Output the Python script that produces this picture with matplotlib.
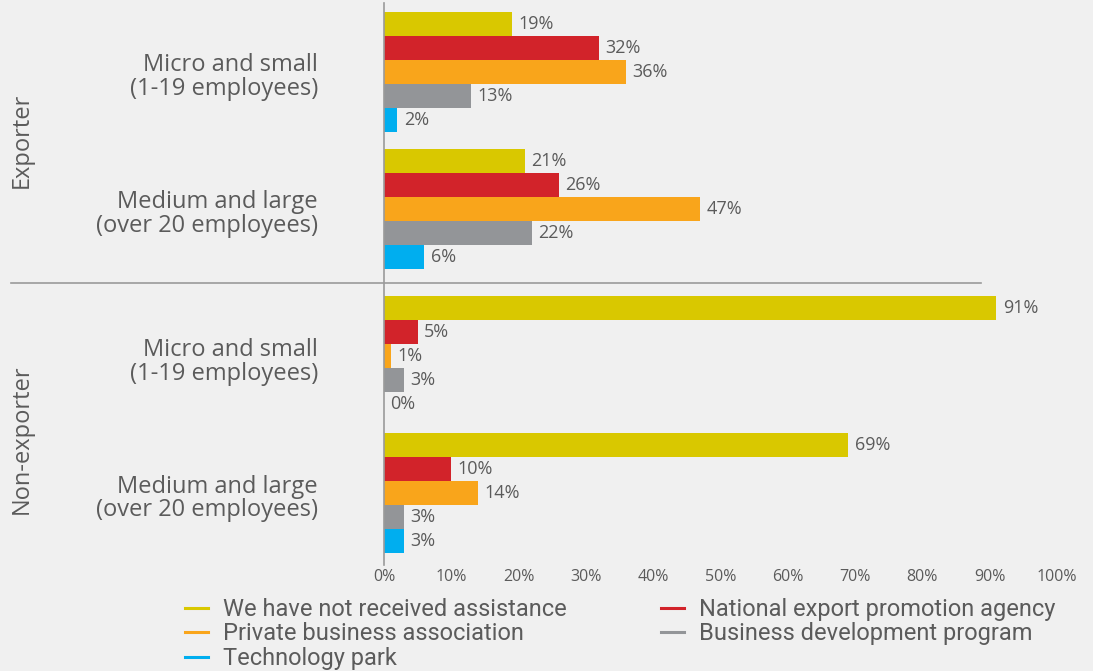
import matplotlib
matplotlib.use("Agg")
import matplotlib.pyplot as plt
import matplotlib.transforms as mtransforms
from matplotlib.lines import Line2D
import numpy as np

# Survey data: share of firms by source of assistance (%)
series_names = [
    "We have not received assistance",
    "National export promotion agency",
    "Private business association",
    "Business development program",
    "Technology park",
]
series_colors = ["#D9C800", "#D2232A", "#F9A51B", "#939598", "#00AEEF"]

size_labels = [
    "Micro and small\n(1-19 employees)",
    "Medium and large\n(over 20 employees)",
    "Micro and small\n(1-19 employees)",
    "Medium and large\n(over 20 employees)",
]
block_labels = ["Exporter", "Non-exporter"]

not_received = [19, 21, 91, 69]
national_agency = [32, 26, 5, 10]
business_association = [36, 47, 1, 14]
development_program = [13, 22, 3, 3]
technology_park = [2, 6, 0, 3]

values = [not_received, national_agency, business_association,
          development_program, technology_park]

xticks = list(range(0, 101, 10))
xtick_labels = [f"{t}%" for t in xticks]

bg = "#F0F0F0"
text_col = "#5B5B5B"
axis_col = "#9A9A9A"
font = "Open Sans"

fig = plt.figure(figsize=(10.93, 6.71), dpi=100, facecolor=bg)
ax = fig.add_axes([384 / 1093, 1 - 565 / 671, 673 / 1093, 562 / 671])
ax.set_facecolor(bg)

# group layout (in bar-height units)
n_series = len(values)
group_step = 5.7
block_extra = 0.45
starts = []
for g in range(len(size_labels)):
    s = g * group_step + (block_extra if g >= 2 else 0)
    starts.append(s)

for si, (vals, col) in enumerate(zip(values, series_colors)):
    for g, v in enumerate(vals):
        yc = starts[g] + si + 0.5
        ax.barh(yc, v, height=1.0, color=col, linewidth=0)
        ax.annotate(f"{v}%", xy=(v, yc), xytext=(4.5, 0),
                    textcoords="offset points", ha="left", va="center",
                    fontsize=13, color=text_col, family=font)

ax.set_xlim(0, 100)
ax.set_ylim(23.04, -0.375)

for sp in ["top", "right", "bottom"]:
    ax.spines[sp].set_visible(False)
ax.spines["left"].set_color(axis_col)
ax.spines["left"].set_linewidth(1.2)

ax.set_yticks([])
ax.set_xticks(xticks)
ax.set_xticklabels(xtick_labels, fontsize=11.5, color=text_col, family=font)
ax.tick_params(axis="x", length=0, pad=3)

# category labels
for g, lab in enumerate(size_labels):
    ax.text(-0.098, starts[g] + 2.72, lab, transform=ax.get_yaxis_transform(),
            ha="right", va="center", fontsize=17, color=text_col,
            family=font, linespacing=0.98)

# block labels and separator
sep_y = (starts[1] + n_series + starts[2]) / 2
trans = mtransforms.blended_transform_factory(fig.transFigure, ax.transData)
ax.add_line(Line2D([11 / 1093, 981 / 1093], [sep_y, sep_y], transform=trans,
                   color=axis_col, linewidth=1.2, clip_on=False))
ax.text(22 / 1093, (starts[0] + starts[1] + n_series) / 2, block_labels[0],
        transform=trans, rotation=90, ha="center", va="center",
        fontsize=17, color=text_col, family=font)
ax.text(22 / 1093, (starts[2] + starts[3] + n_series) / 2 + 0.6, block_labels[1],
        transform=trans, rotation=90, ha="center", va="center",
        fontsize=17, color=text_col, family=font)

# legend: first column yellow/orange/blue, second red/gray
order = [0, 2, 4, 1, 3]
handles = [Line2D([], [], color=series_colors[i], linewidth=2.2) for i in order]
labels = [series_names[i] for i in order]
fig.legend(handles, labels, loc="upper left",
           bbox_to_anchor=(173 / 1093, 1 - 586 / 671),
           ncol=2, frameon=False, handlelength=1.0, handletextpad=0.6,
           columnspacing=4.0, labelspacing=0.07, borderpad=0,
           prop={"family": "Roboto", "size": 17}, labelcolor=text_col)

fig.savefig("out.png", dpi=100, facecolor=bg)
